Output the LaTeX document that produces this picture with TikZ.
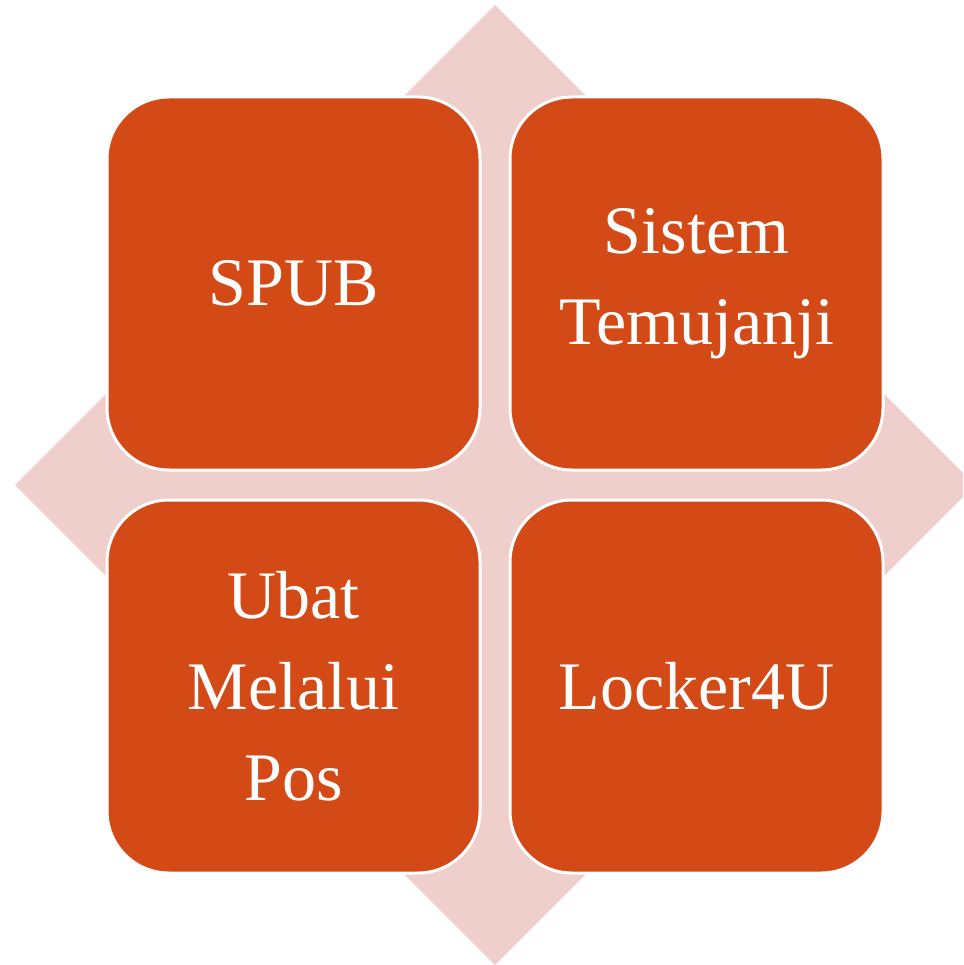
\documentclass[tikz,border=0pt]{standalone}
\usepackage{fontspec}
\setmainfont{Liberation Serif}
\definecolor{boxorange}{HTML}{D34A17}
\definecolor{diapink}{HTML}{EFCFCC}
\tikzset{
  tile/.style={draw=white, line width=3pt, fill=boxorange, rounded corners=62pt,
    minimum width=373pt, minimum height=373pt, inner sep=0pt, align=center,
    text=white, font=\fontsize{68}{91}\selectfont},
}
\begin{document}
\begin{tikzpicture}[x=1pt,y=-1pt]
\useasboundingbox (0,0) rectangle (963,965);
\begin{scope}
\clip (0,0) rectangle (963,965);
\fill[diapink] (495,5) -- (975,485) -- (495,965) -- (15,485) -- cycle;
\end{scope}
\node[tile] (spub) at (293.5,283.5) {SPUB};
\node[tile] (temu) at (696.5,283.5) {Sistem\\Temujanji};
\node[tile] (ubat) at (293.5,686.5) {Ubat\\Melalui\\Pos};
\node[tile] (lock) at (696.5,686.5) {Locker4U};
\end{tikzpicture}
\end{document}
